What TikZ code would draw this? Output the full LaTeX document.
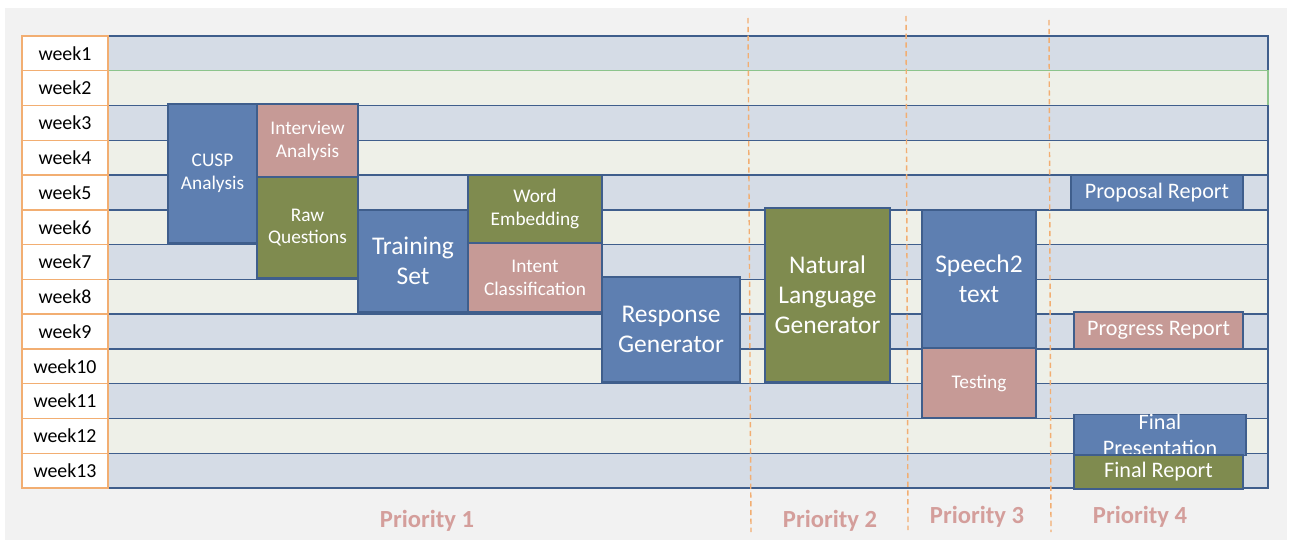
\documentclass[tikz,border=0pt]{standalone}
\usepackage{fontspec}
\setmainfont{Carlito}
\definecolor{taskblue}{HTML}{5E7FB1}
\definecolor{taskpink}{HTML}{C69A96}
\definecolor{taskgreen}{HTML}{7F8B4F}
\definecolor{bandblue}{HTML}{D5DCE6}
\definecolor{bandpale}{HTML}{EEF0E8}
\definecolor{bandline}{HTML}{3F5E8C}
\definecolor{bandgreen}{HTML}{8CC48C}
\definecolor{weekline}{HTML}{F2AE72}
\definecolor{prio}{HTML}{D49E9B}
\definecolor{backgray}{HTML}{F2F2F2}

\begin{document}
\begin{tikzpicture}
    [x=0.02cm, y=-0.02cm,
    week/.style={draw=weekline, line width=0.8pt, fill=white, minimum width=1.72cm,
      minimum height=0.695cm, inner sep=0pt, font=\fontsize{11.3}{13}\selectfont},
    band/.style={line width=0.8pt, minimum width=23.2cm, minimum height=0.695cm, inner sep=0pt},
    task/.style={draw=bandline, line width=0.8pt, text=white, align=center, inner sep=0pt,
      font=\fontsize{11}{13}\selectfont},
    bigtask/.style={task, font=\fontsize{14.5}{17}\selectfont},
    report/.style={task, font=\fontsize{12.6}{14.7}\selectfont},
    divider/.style={draw=weekline, line width=0.8pt, dash pattern=on 3pt off 2pt},
    priority/.style={text=prio, font=\fontsize{14}{16}\selectfont\bfseries}]
    \useasboundingbox (0,0) rectangle (1290,544);
    \fill[backgray] (5,8) rectangle (1287,540);
    % week rows
    \foreach \i/\fc/\dc in {1/bandblue/bandline, 2/bandpale/bandgreen, 3/bandblue/bandline,
      4/bandpale/bandline, 5/bandblue/bandline, 6/bandpale/bandline, 7/bandblue/bandline,
      8/bandpale/bandline, 9/bandblue/bandline, 10/bandpale/bandline, 11/bandblue/bandline,
      12/bandpale/bandline, 13/bandblue/bandline} {
      \pgfmathsetmacro{\rowy}{36+(\i-0.5)*34.77}
      \node[band, fill=\fc, draw=\dc] (band\i) at (688,\rowy) {};
      \node[week] (week\i) at (65,\rowy) {week\i};
    }
    % priority borders
    \draw[divider] (748,18) -- (751,532);
    \draw[divider] (906,16) -- (908,530);
    \draw[divider] (1049,20) -- (1051,532);
    % priority 1
    \node[task, fill=taskblue, minimum width=1.78cm, minimum height=2.78cm] (cusp) at (212.5,173.5) {CUSP\\Analysis};
    \node[task, fill=taskpink, minimum width=2.02cm, minimum height=1.46cm] (interview) at (307.5,140.5) {Interview\\Analysis};
    \node[task, fill=taskgreen, minimum width=2.02cm, minimum height=2.02cm] (raw) at (307.5,227.5) {Raw\\Questions};
    \node[bigtask, fill=taskblue, minimum width=2.2cm, minimum height=2.04cm] (training) at (413,261) {Training\\Set};
    \node[task, fill=taskgreen, minimum width=2.68cm, minimum height=1.36cm] (embedding) at (535,209) {Word\\Embedding};
    \node[task, fill=taskpink, minimum width=2.68cm, minimum height=1.38cm] (intent) at (535,277.5) {Intent\\Classification};
    \node[bigtask, fill=taskblue, minimum width=2.76cm, minimum height=2.1cm] (response) at (671,329.5) {Response\\Generator};
    % priority 2
    \node[bigtask, fill=taskgreen, minimum width=2.5cm, minimum height=3.48cm] (nlg) at (827.5,295) {Natural\\Language\\Generator};
    % priority 3
    \node[bigtask, fill=taskblue, minimum width=2.28cm, minimum height=2.76cm] (speech) at (979,279) {Speech2\\text};
    \node[task, fill=taskpink, minimum width=2.28cm, minimum height=1.4cm] (testing) at (979,383) {Testing};
    % priority 4
    \node[report, fill=taskblue, minimum width=3.44cm, minimum height=0.7cm] (proposal) at (1157,192.5) {Proposal Report};
    \node[report, fill=taskpink, minimum width=3.38cm, minimum height=0.74cm] (progress) at (1158.5,330.5) {Progress Report};
    \node[report, fill=taskblue, minimum width=3.44cm, minimum height=0.8cm] (presentation) at (1160,435) {Final\\Presentation};
    \node[report, fill=taskgreen, minimum width=3.38cm, minimum height=0.68cm] (final) at (1158.5,472) {Final Report};
    % priority labels
    \node[priority] (prio1) at (427,521) {Priority 1};
    \node[priority] (prio2) at (830,521) {Priority 2};
    \node[priority] (prio3) at (977,517) {Priority 3};
    \node[priority] (prio4) at (1140,517) {Priority 4};
\end{tikzpicture}
\end{document}
